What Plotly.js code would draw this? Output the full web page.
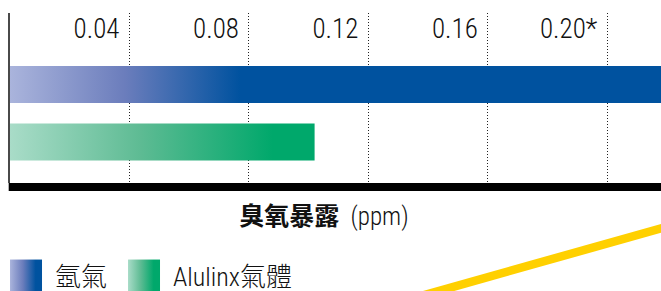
<!DOCTYPE html>
<html>
<head>
<meta charset="utf-8">
<script src="https://cdn.plot.ly/plotly-3.0.1.min.js"></script>
<style>
  html, body { margin: 0; padding: 0; background: #fff; }
  #chart { width: 661px; height: 291px; }
</style>
</head>
<body>
<div id="chart"></div>
<script>
// ---- data ----
var categories = ['氬氣', 'Alulinx氣體'];
var ozoneExposure = [0.24, 0.102];          // ppm (blue bar runs past the right edge)
var tickValues = [0.04, 0.08, 0.12, 0.16, 0.20];
var tickLabels = ['0.04', '0.08', '0.12', '0.16', '0.20*'];
var axisTitle = '<b>臭氧暴露</b>&nbsp; (ppm)';

// ---- styles ----
var condFont = '"Roboto Condensed", "Open Sans", "Noto Sans CJK TC", sans-serif';
var gradients = [
  { light: '#AAB4DC', mid: '#6B7DBC', dark: '#00529F', full: 0.077 },
  { light: '#A9DCC8', mid: '#5DBB93', dark: '#00A86B', full: 0.088 }
];

var traces = categories.map(function (c, i) {
  return {
    type: 'bar',
    orientation: 'h',
    name: c,
    y: [c],
    x: [ozoneExposure[i]],
    width: 0.64,
    marker: { color: gradients[i].dark, line: { width: 0 } },
    hoverinfo: 'skip'
  };
});

var layout = {
  width: 661,
  height: 291,
  margin: { l: 10, r: 0, t: 13, b: 108, pad: 0, autoexpand: false },
  paper_bgcolor: '#ffffff',
  plot_bgcolor: 'rgba(0,0,0,0)',
  barmode: 'overlay',
  showlegend: true,
  title: {
    text: axisTitle,
    x: 0.49, xanchor: 'center', xref: 'container',
    y: 0.258, yanchor: 'middle', yref: 'container',
    font: { family: condFont, size: 25, color: '#111', stretch: 'condensed', weight: 300 }
  },
  xaxis: {
    range: [0, 0.218],
    side: 'top',
    showline: false,
    zeroline: false,
    showgrid: true,
    gridcolor: '#222',
    gridwidth: 1,
    griddash: '1px,2px',
    tickmode: 'array',
    tickvals: tickValues,
    ticktext: tickLabels,
    ticks: '',
    ticklabelposition: 'inside left',
    ticklabelshift: -10,
    tickfont: { family: condFont, size: 27, color: '#111', stretch: 'condensed', weight: 300 },
    fixedrange: true
  },
  yaxis: {
    type: 'category',
    categoryorder: 'array',
    categoryarray: ['Alulinx氣體', '氬氣'],
    range: [-0.713, 2.243],
    showticklabels: false,
    showgrid: false,
    zeroline: false,
    showline: true,
    linecolor: '#4a4a4a',
    linewidth: 2,
    ticks: '',
    fixedrange: true
  },
  legend: {
    orientation: 'h',
    x: 0.0077, xanchor: 'left', xref: 'paper',
    y: -0.545, yanchor: 'middle', yref: 'paper',
    font: { family: condFont, size: 26, color: '#111', stretch: 'condensed', weight: 300 },
    entrywidth: 73, entrywidthmode: 'pixels',
    bgcolor: 'rgba(0,0,0,0)',
    borderwidth: 0
  },
  shapes: [
    { type: 'rect', xref: 'paper', yref: 'paper', x0: -0.002, x1: 1.01,
      ysizemode: 'pixel', yanchor: 0, y0: 0, y1: -8,
      fillcolor: '#000', line: { width: 0 } },
    { type: 'line', xref: 'paper', yref: 'paper', x0: 0.58, y0: -0.72, x1: 1.02, y1: -0.245,
      line: { color: '#FFD000', width: 8.5 } }
  ]
};

var gd = document.getElementById('chart');
Plotly.newPlot(gd, traces, layout, { staticPlot: true, displayModeBar: false }).then(function () {
  var NS = 'http://www.w3.org/2000/svg';
  var svg = gd.querySelector('svg.main-svg');
  var defs = svg.querySelector('defs');
  if (!defs) { defs = document.createElementNS(NS, 'defs'); svg.insertBefore(defs, svg.firstChild); }
  var xa = gd._fullLayout.xaxis;

  function grad(id, g, x1, x2, units) {
    var lg = document.createElementNS(NS, 'linearGradient');
    lg.setAttribute('id', id);
    lg.setAttribute('gradientUnits', units);
    lg.setAttribute('x1', x1); lg.setAttribute('x2', x2);
    lg.setAttribute('y1', 0); lg.setAttribute('y2', 0);
    [[0, g.light], [0.5, g.mid], [1, g.dark]].forEach(function (s) {
      var st = document.createElementNS(NS, 'stop');
      st.setAttribute('offset', s[0]);
      st.setAttribute('stop-color', s[1]);
      lg.appendChild(st);
    });
    defs.appendChild(lg);
  }

  gradients.forEach(function (g, i) {
    grad('barGrad' + i, g, xa.l2p(0), xa.l2p(g.full), 'userSpaceOnUse');
    grad('legGrad' + i, g, 0, 0.8, 'objectBoundingBox');
  });

  gd.querySelectorAll('.barlayer .trace').forEach(function (t) {
    var idx = t.__data__[0].trace.index;
    t.querySelectorAll('path').forEach(function (p) { p.style.fill = 'url(#barGrad' + idx + ')'; });
  });

  gd.querySelectorAll('.legend .traces').forEach(function (it) {
    var idx = it.__data__[0].trace.index;
    it.querySelectorAll('.legendpoints path').forEach(function (p) { p.style.display = 'none'; });
    var txt = it.querySelector('text.legendtext');
    var tx = parseFloat(txt.getAttribute('x')) || 40;
    var r = document.createElementNS(NS, 'rect');
    r.setAttribute('x', tx - 45);
    r.setAttribute('y', -16);
    r.setAttribute('width', 32);
    r.setAttribute('height', 32);
    r.setAttribute('fill', 'url(#legGrad' + idx + ')');
    it.insertBefore(r, it.firstChild);
  });
  gd.querySelectorAll('.legend [clip-path]').forEach(function (e) { e.removeAttribute('clip-path'); });
});
</script>
</body>
</html>
